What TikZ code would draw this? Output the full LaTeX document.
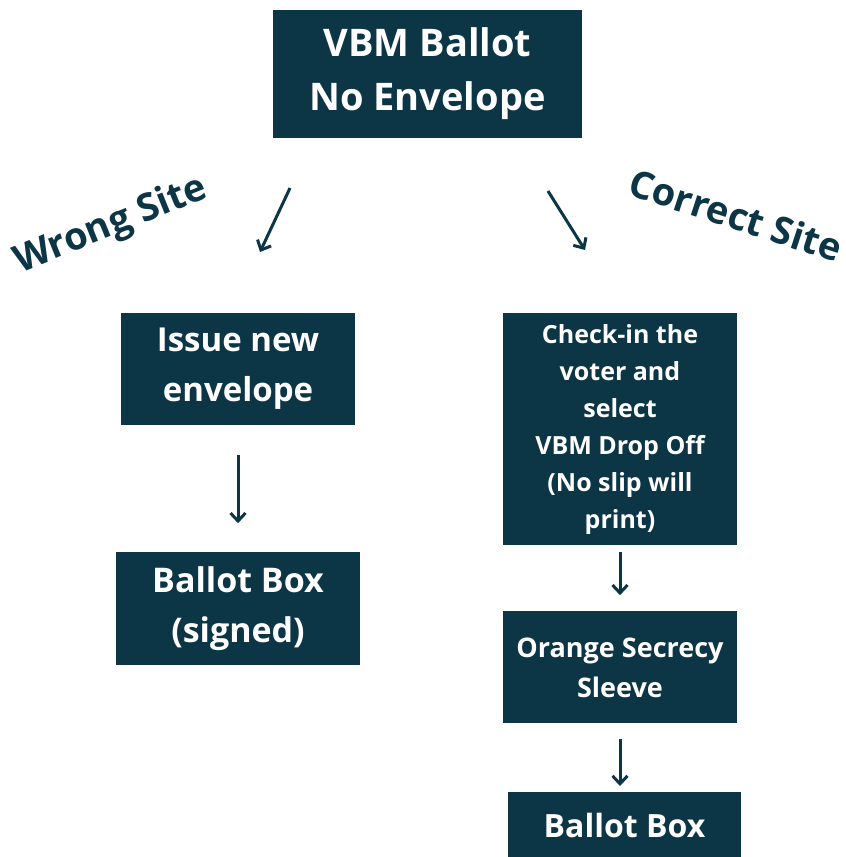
\documentclass[tikz,border=0pt]{standalone}
\usepackage{fontspec}
\setmainfont{Open Sans}
\usetikzlibrary{positioning,arrows.meta}

\definecolor{boxteal}{HTML}{0C3546}

\tikzset{
  stepnode/.style={fill=boxteal, text=white, font=\bfseries, align=center, inner sep=2pt},
  flow/.style={draw=boxteal, line width=3pt, -{Straight Barb[length=8pt,width=15pt,line width=3pt]}},
  sitelabel/.style={text=boxteal, font=\bfseries\fontsize{38}{40}\selectfont}
}

\begin{document}
\begin{tikzpicture}[x=1pt,y=1pt]

  \useasboundingbox (0,0) rectangle (846,-857);

  % Define nodes

  % ballot
  \node[stepnode, minimum width=309pt, minimum height=128pt,
        font=\bfseries\fontsize{38}{54}\selectfont] (ballot) at (427.5,-74)
        {VBM Ballot\\No Envelope}; %

  % wrong site branch
  \node[stepnode, minimum width=234pt, minimum height=112pt,
        font=\bfseries\fontsize{33}{50}\selectfont] (issue) at (238,-369)
        {Issue new\\envelope}; %
  \node[stepnode, below=127pt of issue, minimum width=244pt, minimum height=113pt,
        font=\bfseries\fontsize{34}{50}\selectfont] (signed)
        {Ballot Box\\(signed)}; %

  % correct site branch
  \node[stepnode, minimum width=234pt, minimum height=232pt,
        font=\bfseries\fontsize{25}{37}\selectfont] (checkin) at (620,-429)
        {Check-in the\\voter and\\select\\VBM Drop Off\\(No slip will\\print)}; %
  \node[stepnode, below=66pt of checkin, minimum width=234pt, minimum height=112pt,
        font=\bfseries\fontsize{27}{40}\selectfont] (sleeve)
        {Orange Secrecy\\Sleeve}; %
  \node[stepnode, anchor=north, minimum width=233pt, minimum height=66pt,
        font=\bfseries\fontsize{32}{40}\selectfont] (box) at (624.5,-792)
        {Ballot Box}; %

  % branch labels
  \node[sitelabel, rotate=22] (wrong) at (111,-226) {Wrong Site}; %
  \node[sitelabel, rotate=-18] (correct) at (736,-215) {Correct Site}; %

  % arrow ends
  \coordinate (wrong-a) at (290,-188); %
  \coordinate (wrong-b) at (260,-252); %
  \coordinate (correct-a) at (548,-191); %
  \coordinate (correct-b) at (585,-250); %

  % Connect
  \draw[flow] (wrong-a) -- (wrong-b); %
  \draw[flow] (correct-a) -- (correct-b); %
  \draw[flow, shorten <=30pt, shorten >=29pt] (issue.south) -- (signed.north); %
  \draw[flow, shorten <=7pt, shorten >=16pt] (checkin.south) -- (sleeve.north); %
  \draw[flow, shorten <=15pt, shorten >=6pt] (sleeve.south) -- (sleeve.south |- box.north); %

\end{tikzpicture}
\end{document}
